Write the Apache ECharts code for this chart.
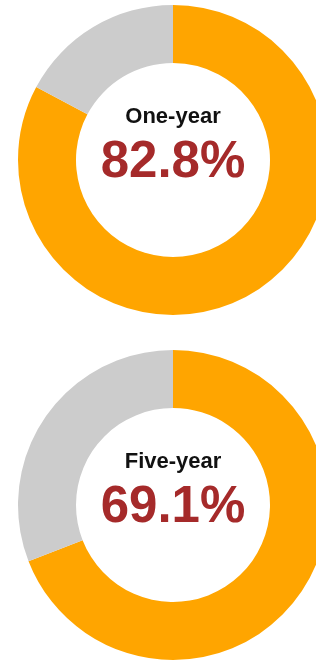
<!DOCTYPE html>
<html>
<head>
<meta charset="utf-8">
<script src="https://cdn.jsdelivr.net/npm/echarts@6/dist/echarts.min.js"></script>
<style>
  html, body { margin: 0; padding: 0; background: #fff; }
  #chart { width: 316px; height: 660px; }
</style>
</head>
<body>
<div id="chart"></div>
<script>
// survival rates
const periods = ['One-year', 'Five-year']
const rates = [82.8, 69.1]
const centersY = [160, 505]

const chart = echarts.init(document.getElementById('chart'))

const series = periods.map((p, i) => ({
  type: 'pie',
  center: [173, centersY[i]],
  radius: [97, 155],
  startAngle: 90,
  clockwise: true,
  silent: true,
  animation: false,
  labelLine: { show: false },
  label: { show: false },
  data: [
    {
      name: p,
      value: rates[i],
      itemStyle: { color: '#FFA500' },
      label: {
        show: true,
        position: 'center',
        offset: [0, -12],
        formatter: '{n|{b}}\n{v|{c}%}',
        rich: {
          n: { fontFamily: 'Liberation Sans', fontWeight: 'bold', fontSize: 22, color: '#111', lineHeight: 30 },
          v: { fontFamily: 'Liberation Sans', fontWeight: 'bold', fontSize: 51, color: '#A52A2A', lineHeight: 62 }
        }
      }
    },
    { name: 'rest', value: +(100 - rates[i]).toFixed(1), itemStyle: { color: '#CCCCCC' } }
  ]
}))

chart.setOption({ animation: false, series })
</script>
</body>
</html>
